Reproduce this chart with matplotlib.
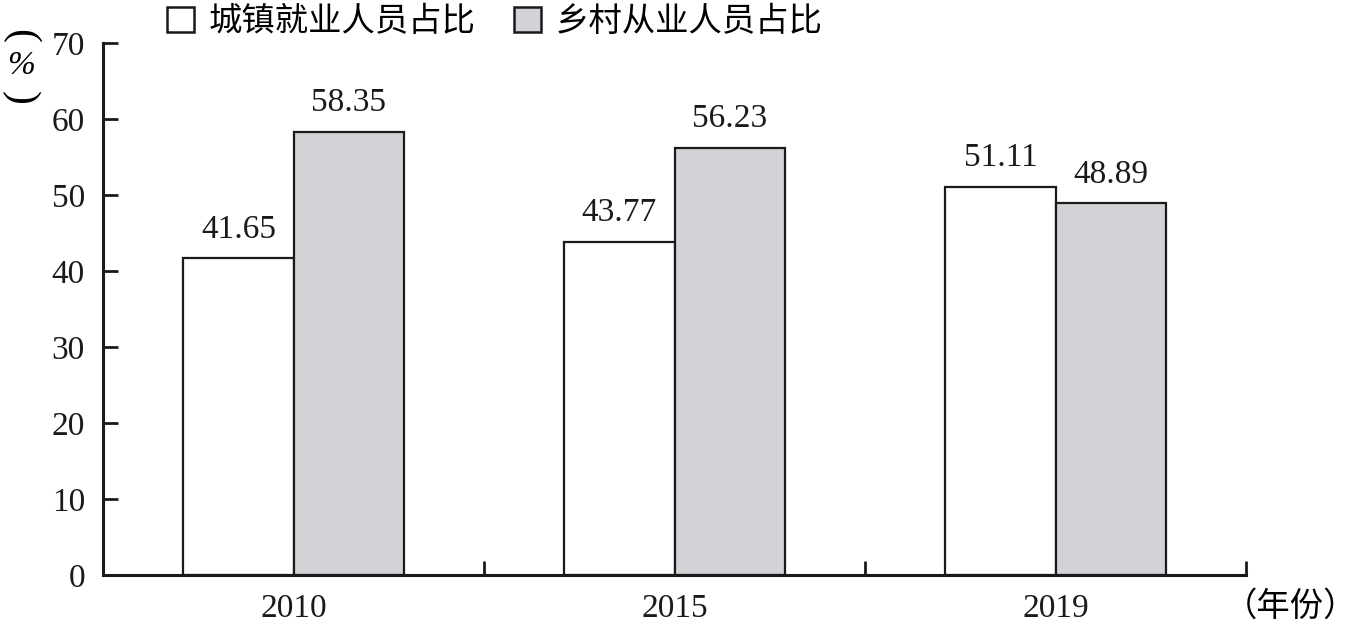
import matplotlib
matplotlib.use("Agg")
import matplotlib.pyplot as plt
import numpy as np
from matplotlib.patches import Patch

years = ["2010", "2015", "2019"]
urban = [41.65, 43.77, 51.11]
rural = [58.35, 56.23, 48.89]
series_names = ["城镇就业人员占比", "乡村从业人员占比"]
yticks = [0, 10, 20, 30, 40, 50, 60, 70]

SERIF = "Liberation Serif"
CJK = ["Noto Sans CJK SC", "DejaVu Sans"]
GRAY = "#d3d3d7"
INK = "#1a1a1a"

fig = plt.figure(figsize=(13.56, 6.24), dpi=100)
ax = fig.add_axes([103/1356, 1-575/624, (1246-103)/1356, (575-43)/624])

x = np.arange(len(years))
w = 0.289
b1 = ax.bar(x - w/2, urban, w, color="white", edgecolor=INK, linewidth=1.6)
b2 = ax.bar(x + w/2, rural, w, color=GRAY, edgecolor=INK, linewidth=1.6)

for bars in (b1, b2):
    labs = ax.bar_label(bars, labels=[f"{v:.2f}" for v in bars.datavalues], padding=10)
    for t in labs:
        t.set_fontfamily(SERIF)
        t.set_fontsize(24)
        t.set_color(INK)

ax.set_xlim(-0.5, 2.5)
ax.set_ylim(0, 70)
ax.set_yticks(yticks)
ax.set_yticklabels([str(v) for v in yticks], fontfamily=SERIF, fontsize=24)
ax.set_xticks(x)
ax.set_xticklabels(years, fontfamily=SERIF, fontsize=24)
ax.set_xticks([0.5, 1.5, 2.5], minor=True)
ax.tick_params(axis="x", which="major", length=0, pad=13, colors=INK)
ax.tick_params(axis="x", which="minor", direction="in", length=10, width=2, colors=INK)
ax.tick_params(axis="y", which="major", direction="in", length=11, width=2, pad=13, colors=INK)
for s in ("top", "right"):
    ax.spines[s].set_visible(False)
for s in ("left", "bottom"):
    ax.spines[s].set_linewidth(2.2)
    ax.spines[s].set_color(INK)

handles = [Patch(facecolor="white", edgecolor=INK, linewidth=1.8),
           Patch(facecolor=GRAY, edgecolor=INK, linewidth=1.8)]
leg = fig.legend(handles, series_names, loc="upper left", bbox_to_anchor=(164/1356, 1.0 - 1/624),
                 ncol=2, frameon=False, prop={"family": CJK, "size": 24},
                 handlelength=0.8, handleheight=0.8, handletextpad=0.45, columnspacing=1.15,
                 borderaxespad=0.0, borderpad=0.1)

# y-axis unit label (vertical)
fig.text(20/1356, 1-36/624, "(", family=SERIF, fontsize=30, rotation=-90, ha="center", va="center")
fig.text(21/1356, 1-66/624, "%", family=SERIF, style="italic", fontsize=24, ha="center", va="center")
fig.text(20/1356, 1-98/624, ")", family=SERIF, fontsize=30, rotation=-90, ha="center", va="center")

fig.text(1224/1356, 1-606/624, "（年份）", family=CJK, fontsize=24, ha="left", va="center")

fig.savefig("out.png", dpi=100)
